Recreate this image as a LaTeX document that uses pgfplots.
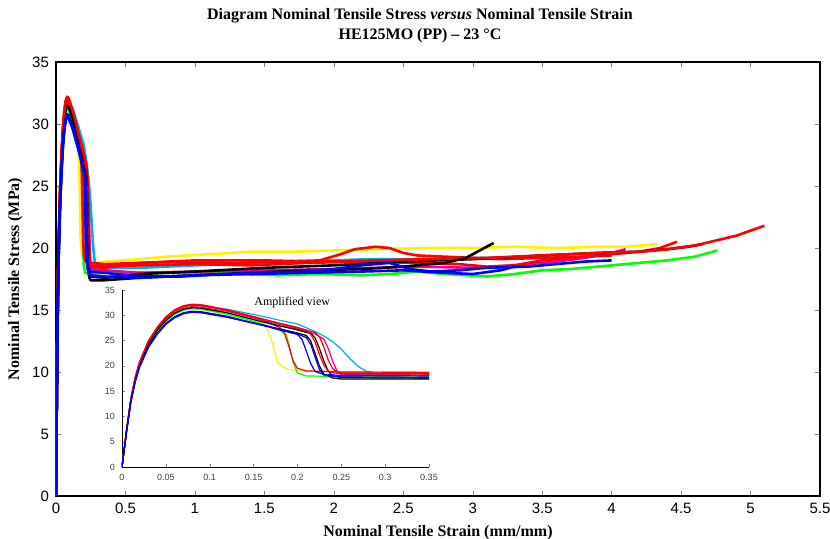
\documentclass[border=0pt]{standalone}
\usepackage{fontspec}
\setmainfont{Liberation Serif}
\setsansfont{Liberation Sans}
\usepackage{pgfplots}
\usepackage{pgfplotstable}
\pgfplotsset{compat=1.18}

% strain (mm/mm) vs stress (MPa), one table per specimen
\pgfplotstableread{
x y
0 0
0.005 6.9
0.01 13.0
0.015 17.3
0.02 20.3
0.03 24.2
0.04 26.9
0.05 28.9
0.06 30.3
0.07 31.1
0.08 31.4
0.09 31.3
0.1 31.0
0.12 30.3
0.14 29.4
0.16 28.3
0.165 27.4
0.17 25.4
0.177 20.8
0.183 19.8
0.19 19.3
0.2 19.0
0.25 18.8
0.35 18.9
0.5 19.0
0.8 19.3
1.1 19.5
1.4 19.7
1.7 19.7
2.0 19.8
2.3 19.9
2.7 20.0
3.0 20.0
3.3 20.1
3.6 20.0
3.9 20.1
4.1 20.1
4.33 20.3
}\yellowtab
\pgfplotstableread{
x y
0 0
0.005 6.9
0.01 13.0
0.015 17.2
0.02 20.2
0.03 24.1
0.04 26.8
0.05 28.8
0.06 30.2
0.07 31.0
0.08 31.3
0.09 31.2
0.1 30.9
0.12 30.2
0.14 29.3
0.16 28.3
0.18 27.0
0.187 26.2
0.19 24.5
0.195 20.8
0.2 18.6
0.21 18.0
0.25 17.9
0.35 18.0
0.6 18.0
1.0 18.0
1.3 17.9
1.6 17.8
1.9 17.9
2.2 17.8
2.4 17.9
2.6 18.1
2.8 17.9
3.1 17.7
3.3 17.9
3.5 18.2
3.7 18.3
4.0 18.6
4.2 18.8
4.4 19.0
4.6 19.3
4.76 19.8
}\greentab
\pgfplotstableread{
x y
0 0
0.005 7.0
0.01 13.3
0.015 17.6
0.02 20.6
0.03 24.7
0.04 27.4
0.05 29.5
0.06 30.9
0.07 31.7
0.08 32.0
0.09 31.9
0.1 31.6
0.12 31.2
0.14 30.5
0.16 29.8
0.18 29.0
0.2 28.3
0.22 26.8
0.23 25.9
0.24 24.8
0.25 23.3
0.26 21.4
0.27 19.8
0.28 18.8
0.29 18.5
0.35 18.4
0.6 18.4
1.0 18.6
1.5 18.8
1.8 18.9
2.0 19.0
2.26 19.1
2.6 19.1
3.0 19.2
3.3 19.2
}\cyantab
\pgfplotstableread{
x y
0 0
0.005 7.0
0.01 13.2
0.015 17.4
0.02 20.4
0.03 24.5
0.04 27.2
0.05 29.2
0.06 30.6
0.07 31.4
0.08 31.7
0.09 31.6
0.1 31.3
0.12 30.8
0.14 29.9
0.16 29.0
0.18 28.2
0.2 27.3
0.22 26.3
0.23 25.3
0.235 23.5
0.24 21.0
0.245 19.0
0.25 18.3
0.35 18.2
0.6 18.0
1.0 18.1
1.5 18.2
2.0 18.3
2.3 18.4
2.6 18.5
3.0 18.4
3.3 18.6
3.6 18.9
3.8 19.2
4.0 19.6
4.1 19.9
}\magentatab
\pgfplotstableread{
x y
0 0
0.005 7.0
0.01 13.3
0.015 17.6
0.02 20.6
0.03 24.7
0.04 27.4
0.05 29.5
0.06 30.9
0.07 31.7
0.08 32.0
0.09 31.9
0.1 31.6
0.12 31.0
0.14 30.1
0.16 29.2
0.18 28.4
0.2 27.6
0.22 26.6
0.225 25.8
0.23 23.8
0.235 21.2
0.24 19.5
0.245 18.8
0.25 18.6
0.35 18.5
0.6 18.6
1.0 18.7
1.4 18.6
1.8 18.8
2.2 18.9
2.6 18.8
2.9 18.7
3.1 18.5
3.3 18.6
3.5 19.0
3.8 19.3
4.0 19.5
4.2 19.7
4.35 20.0
4.47 20.5
}\redbtab
\pgfplotstableread{
x y
0 0
0.005 7.1
0.01 13.4
0.015 17.7
0.02 20.8
0.03 24.9
0.04 27.6
0.05 29.7
0.06 31.1
0.07 31.9
0.08 32.2
0.09 32.1
0.1 31.8
0.12 31.0
0.14 30.1
0.16 29.0
0.18 27.6
0.185 26.5
0.19 24.0
0.195 21.0
0.2 19.5
0.21 19.0
0.25 18.8
0.35 18.7
0.6 18.8
1.0 18.9
1.3 18.8
1.6 18.9
1.9 19.0
2.05 19.5
2.15 19.9
2.3 20.1
2.4 20.0
2.5 19.6
2.6 19.4
2.8 19.3
3.0 19.2
3.2 19.1
3.5 19.2
3.8 19.3
4.0 19.4
}\redctab
\pgfplotstableread{
x y
0 0
0.005 6.9
0.01 13.1
0.015 17.3
0.02 20.3
0.03 24.3
0.04 27.0
0.05 29.0
0.06 30.4
0.07 31.2
0.08 31.5
0.09 31.4
0.1 31.1
0.12 30.5
0.14 29.6
0.16 28.7
0.18 27.9
0.2 27.1
0.215 26.4
0.22 25.6
0.225 23.5
0.23 21.0
0.235 19.0
0.24 18.0
0.25 17.7
0.35 17.6
0.6 17.9
1.0 18.1
1.5 18.4
2.0 18.6
2.5 18.9
3.0 19.1
3.5 19.4
3.9 19.6
4.2 19.7
4.4 19.9
4.55 20.1
4.65 20.3
}\blackbtab
\pgfplotstableread{
x y
0 0
0.005 7.1
0.01 13.3
0.015 17.7
0.02 20.7
0.03 24.8
0.04 27.5
0.05 29.6
0.06 31.0
0.07 31.8
0.08 32.1
0.09 32.0
0.1 31.7
0.12 31.1
0.14 30.2
0.16 29.3
0.18 28.4
0.2 27.5
0.21 27.0
0.215 26.3
0.22 24.8
0.225 22.3
0.23 20.2
0.235 19.0
0.24 18.6
0.25 18.5
0.35 18.4
0.6 18.8
1.0 19.0
1.5 19.0
1.9 18.9
2.3 19.0
2.7 19.1
3.1 19.2
3.5 19.4
3.9 19.6
4.2 19.7
4.4 19.9
4.6 20.2
4.75 20.6
4.9 21.0
5.0 21.4
5.1 21.8
}\redatab
\pgfplotstableread{
x y
0 0
0.005 6.8
0.01 12.8
0.015 16.9
0.02 19.9
0.03 23.8
0.04 26.4
0.05 28.4
0.06 29.7
0.07 30.5
0.08 30.8
0.09 30.7
0.1 30.4
0.12 29.8
0.14 28.9
0.16 28.1
0.18 27.3
0.2 26.5
0.21 26.0
0.215 25.0
0.22 22.5
0.225 20.0
0.23 18.4
0.24 17.6
0.25 17.4
0.35 17.4
0.6 17.6
1.0 17.8
1.4 18.0
1.8 18.2
2.2 18.3
2.5 18.5
2.8 18.8
2.95 19.2
3.05 19.8
3.15 20.4
}\blackatab
\pgfplotstableread{
x y
0 0
0.005 6.8
0.01 12.7
0.015 16.9
0.02 19.8
0.03 23.7
0.04 26.3
0.05 28.3
0.06 29.6
0.07 30.4
0.08 30.7
0.09 30.6
0.1 30.3
0.12 29.7
0.14 28.9
0.16 28.1
0.18 27.2
0.2 26.3
0.21 25.6
0.215 24.3
0.22 21.8
0.225 19.3
0.23 18.2
0.25 17.8
0.35 17.7
0.6 17.6
1.0 17.8
1.4 17.9
1.8 18.0
2.2 18.1
2.5 18.2
2.8 18.0
3.0 17.9
3.2 18.2
3.3 18.5
}\bluebtab
\pgfplotstableread{
x y
0 0
0.005 6.7
0.01 12.7
0.015 16.8
0.02 19.7
0.03 23.6
0.04 26.2
0.05 28.2
0.06 29.5
0.07 30.3
0.08 30.6
0.09 30.5
0.1 30.2
0.12 29.6
0.14 28.8
0.16 28.0
0.18 27.1
0.2 26.2
0.205 25.3
0.21 23.0
0.215 20.5
0.22 18.9
0.23 18.3
0.25 18.1
0.35 18.0
0.6 17.7
0.9 17.7
1.2 17.9
1.5 18.0
1.8 18.1
2.0 18.3
2.2 18.6
2.4 18.8
2.55 18.3
2.7 18.1
2.9 18.2
3.1 18.4
3.4 18.5
3.6 18.7
3.8 18.9
4.0 19.0
}\blueatab

\begin{document}
\begin{tikzpicture}
\path[use as bounding box] (-28pt,-21.5pt) rectangle (387pt,248pt);
\begin{axis}[
  at={(0,0)}, anchor=south west,
  scale only axis, width=382pt, height=217pt,
  xmin=0, xmax=5.5, ymin=0, ymax=35,
  xtick={0,0.5,...,5.5}, ytick={0,5,...,35},
  tick align=inside, major tick length=2.5pt,
  axis line style={line width=0.6pt},
  /pgf/number format/assume math mode=true,
  tick label style={font=\sffamily\fontsize{7.5}{8}\selectfont},
  title={Diagram Nominal Tensile Stress \textit{versus} Nominal Tensile Strain\\HE125MO (PP) – 23 °C},
  title style={align=center, font=\bfseries\fontsize{8}{10}\selectfont, xshift=-9pt},
  xlabel={Nominal Tensile Strain (mm/mm)},
  ylabel={Nominal Tensile Stress (MPa)},
  label style={font=\bfseries\fontsize{8}{9}\selectfont},
  xlabel style={yshift=1pt},
  ylabel style={yshift=-2pt},
  every axis plot/.append style={line width=1.3pt, line join=round, mark=none},
]
\addplot[yellow] table {\yellowtab};
\addplot[cyan] table {\cyantab};
\addplot[green] table {\greentab};
\addplot[magenta] table {\magentatab};
\addplot[red] table {\redbtab};
\addplot[red] table {\redctab};
\addplot[black] table {\blackbtab};
\addplot[red] table {\redatab};
\addplot[black] table {\blackatab};
\addplot[blue] table {\bluebtab};
\addplot[blue] table {\blueatab};
\end{axis}

% amplified view of the yield region
\begin{axis}[
  at={(33pt,14.5pt)}, anchor=south west,
  scale only axis, width=153.5pt, height=88.5pt,
  xmin=0, xmax=0.35, ymin=0, ymax=35,
  xtick={0,0.05,...,0.35}, ytick={0,5,...,35},
  axis x line*=bottom, axis y line*=left,
  axis line style={-, line width=0.4pt},
  tick align=inside, major tick length=1.5pt,
  scaled x ticks=false,
  xticklabel style={/pgf/number format/fixed, /pgf/number format/precision=2},
  /pgf/number format/assume math mode=true,
  tick label style={font=\sffamily\fontsize{4.5}{5}\selectfont, text=black!75},
  every axis plot/.append style={line width=0.6pt, line join=round, mark=none},
]
\addplot[yellow] table {\yellowtab};
\addplot[cyan] table {\cyantab};
\addplot[green] table {\greentab};
\addplot[magenta] table {\magentatab};
\addplot[red] table {\redbtab};
\addplot[red] table {\redctab};
\addplot[black] table {\blackbtab};
\addplot[red] table {\redatab};
\addplot[black] table {\blackatab};
\addplot[blue] table {\bluebtab};
\addplot[blue] table {\blueatab};
\node[font=\fontsize{6}{7}\selectfont] at (axis cs:0.194,32.6) {Amplified view};
\end{axis}
\end{tikzpicture}
\end{document}
